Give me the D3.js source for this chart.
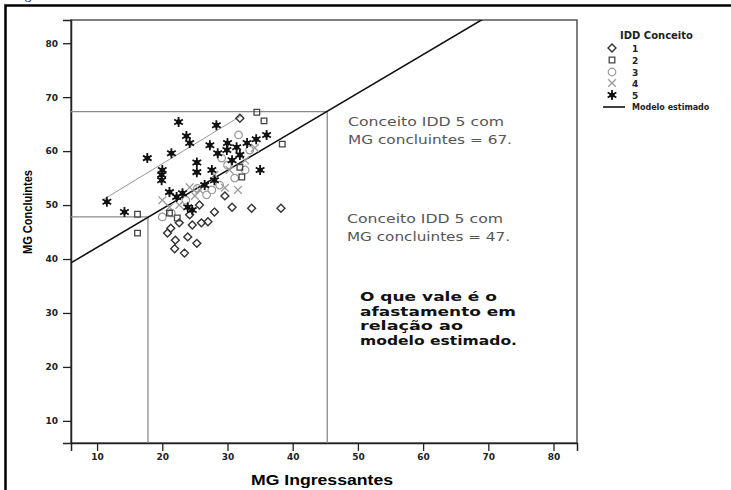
<!DOCTYPE html>
<html>
<head>
<meta charset="utf-8">
<script src="https://cdn.jsdelivr.net/npm/d3@7"></script>
<style>
  body { margin: 0; background: #fff; }
  svg { display: block; }
  .tick text { font-family: "DejaVu Sans", Verdana, sans-serif; font-weight: bold; font-size: 9px; fill: #222; }
</style>
</head>
<body>
<div id="chart"></div>
<script>
// IDD Conceito groups: [MG Ingressantes, MG Concluintes]
const conceito1 = [[33.7,49.4],[30.7,49.6],[28.0,48.7],[29.6,51.7],[22.6,46.7],[24.6,46.3],[26.0,46.7],
  [27.0,46.9],[20.8,44.8],[23.9,44.1],[25.3,42.9],[21.9,41.9],[23.4,41.1],[21.3,45.7],[38.2,49.4],
  [31.9,66.1],[25.7,50.0],[24.2,48.2],[22.0,43.5]];
const conceito2 = [[34.5,67.2],[35.6,65.6],[16.2,48.3],[16.2,44.8],[31.9,57.0],[32.2,55.2],[38.4,61.3],
  [21.1,48.5],[22.3,47.6]];
const conceito3 = [[26.8,51.9],[20.0,47.8],[21.4,48.5],[28.8,53.7],[31.1,55.0],[32.7,56.5],[30.0,57.4],
  [33.4,60.2],[27.6,52.8],[23.6,50.9],[25.4,53.1],[31.7,63.0],[29.1,58.7]];
const conceito4 = [[20.0,50.9],[24.2,53.3],[25.7,52.8],[28.0,55.6],[30.3,56.5],[32.7,58.3],[21.1,49.6],
  [22.6,50.0],[29.6,53.2],[34.2,60.6],[31.6,52.8],[25.0,51.7]];
const conceito5 = [[22.5,65.4],[28.3,64.8],[23.7,62.8],[24.2,61.5],[27.3,61.1],[30.0,61.5],[36.0,63.0],
  [17.7,58.7],[21.4,59.6],[25.3,57.9],[19.9,55.6],[19.9,54.6],[20.0,56.5],[25.3,56.1],[27.6,56.5],
  [28.5,59.6],[29.9,60.2],[31.4,60.7],[33.0,61.5],[35.0,56.5],[11.5,50.6],[14.2,48.7],[21.1,52.4],
  [22.2,51.5],[23.1,52.2],[23.9,49.6],[24.6,49.1],[30.7,58.3],[26.5,53.7],[28.0,54.6],[31.9,59.3],[34.4,62.2]];

const xTicks = [10, 20, 30, 40, 50, 60, 70, 80];
const yTicks = [10, 20, 30, 40, 50, 60, 70, 80];
const legendLabels = ['1', '2', '3', '4', '5'];

// modelo estimado: concluintes = a + b * ingressantes
const modelo = { a: 35.0, b: 0.715 };
const upperLine = [[10.8, 50.9], [32.3, 66.7]];
const refHigh = [45.3, 67.3];
const refLow = [17.8, 47.8];

const W = 731, H = 490;
const mLeft = 71, mRight = 577, mTop = 20, mBottom = 443;

const svg = d3.select('#chart').append('svg')
    .attr('width', W)
    .attr('height', H);

// page frame and cut caption
svg.append('text')
    .attr('x', 14).attr('y', -1)
    .style('font-family', '"Liberation Serif", serif')
    .style('font-size', '13px')
    .text('Figura');
svg.append('path')
    .attr('d', `M5.5,${H} V5.5 H${W}`)
    .attr('fill', 'none')
    .attr('stroke', '#000')
    .attr('stroke-width', 2.5);

const x = d3.scaleLinear().domain([6, 83.6]).range([mLeft, mRight]);
const y = d3.scaleLinear().domain([5.9, 84.3]).range([mBottom, mTop]);

svg.append('defs').append('clipPath').attr('id', 'plot')
  .append('rect')
    .attr('x', mLeft).attr('y', mTop)
    .attr('width', mRight - mLeft).attr('height', mBottom - mTop);

svg.append('rect')
    .attr('x', mLeft).attr('y', mTop)
    .attr('width', mRight - mLeft).attr('height', mBottom - mTop)
    .attr('fill', 'none')
    .attr('stroke', '#555')
    .attr('stroke-width', 1.5);

const xAxis = svg.append('g')
    .attr('transform', `translate(0,${mBottom})`)
    .call(d3.axisBottom(x).tickValues(xTicks).tickSize(8).tickPadding(3));
const yAxis = svg.append('g')
    .attr('transform', `translate(${mLeft},0)`)
    .call(d3.axisLeft(y).tickValues(yTicks).tickSize(8).tickPadding(5));
[xAxis, yAxis].forEach(a => {
    a.select('.domain').attr('stroke', '#222').attr('stroke-width', 1.5);
    a.selectAll('.tick line').attr('stroke', '#222').attr('stroke-width', 1.3);
});

svg.append('text')
    .attr('x', (mLeft + mRight) / 2 - 2).attr('y', 485)
    .attr('text-anchor', 'middle')
    .style('font-family', '"Liberation Sans", Arial, sans-serif')
    .style('font-weight', 'bold')
    .style('font-size', '14px')
    .attr('textLength', 142).attr('lengthAdjust', 'spacingAndGlyphs')
    .text('MG Ingressantes');
svg.append('text')
    .attr('transform', 'translate(32,212) rotate(-90)')
    .attr('text-anchor', 'middle')
    .style('font-family', '"Liberation Sans", Arial, sans-serif')
    .style('font-weight', 'bold')
    .style('font-size', '13px')
    .attr('textLength', 84).attr('lengthAdjust', 'spacingAndGlyphs')
    .text('MG Concluintes');

const plot = svg.append('g').attr('clip-path', 'url(#plot)');

// reference lines
const line = d3.line().x(d => x(d[0])).y(d => y(d[1]));
[refHigh, refLow].forEach(r => {
    plot.append('path')
        .attr('d', line([[6, r[1]], [r[0], r[1]], [r[0], 5.9]]))
        .attr('fill', 'none')
        .attr('stroke', '#8a8a8a')
        .attr('stroke-width', 1.3);
});
plot.append('path')
    .attr('d', line(upperLine))
    .attr('fill', 'none')
    .attr('stroke', '#999')
    .attr('stroke-width', 1);
plot.append('path')
    .attr('d', line([[6, modelo.a + modelo.b * 6], [83.6, modelo.a + modelo.b * 83.6]]))
    .attr('fill', 'none')
    .attr('stroke', '#111')
    .attr('stroke-width', 1.6);

// point symbols
function drawSymbol(g, kind) {
    if (kind === 1) {
        g.append('path').attr('d', d3.symbol(d3.symbolDiamond2, 40)())
            .attr('fill', 'none').attr('stroke', '#333').attr('stroke-width', 1.4);
    } else if (kind === 2) {
        g.append('path').attr('d', d3.symbol(d3.symbolSquare2, 40)())
            .attr('fill', 'none').attr('stroke', '#444').attr('stroke-width', 1.3);
    } else if (kind === 3) {
        g.append('path').attr('d', d3.symbol(d3.symbolCircle, 45)())
            .attr('fill', 'none').attr('stroke', '#9a9a9a').attr('stroke-width', 1.2);
    } else if (kind === 4) {
        g.append('path').attr('d', d3.symbol(d3.symbolTimes, 40)())
            .attr('fill', 'none').attr('stroke', '#9a9a9a').attr('stroke-width', 1.3);
    } else {
        g.append('path').attr('d', d3.symbol(d3.symbolAsterisk, 70)())
            .attr('fill', 'none').attr('stroke', '#111').attr('stroke-width', 1.8);
        g.append('circle').attr('r', 2.6).attr('fill', '#111');
    }
}

const groups = [conceito3, conceito4, conceito1, conceito2, conceito5];
const kinds = [3, 4, 1, 2, 5];
groups.forEach((pts, i) => {
    plot.append('g').selectAll('g')
        .data(pts)
        .enter().append('g')
        .attr('transform', d => `translate(${x(d[0])},${y(d[1])})`)
        .each(function() { drawSymbol(d3.select(this), kinds[i]); });
});

// annotations
const annot = [
    { lines: ['Conceito IDD 5 com', 'MG concluintes = 67.'], x: 348, y: 126, w: [156, 164] },
    { lines: ['Conceito IDD 5 com', 'MG concluintes = 47.'], x: 347, y: 223, w: [156, 163] }
];
annot.forEach(a => {
    a.lines.forEach((t, i) => {
        svg.append('text')
            .attr('x', a.x).attr('y', a.y + i * 18)
            .style('font-family', '"DejaVu Sans", Verdana, sans-serif')
            .style('font-size', '12.5px')
            .style('fill', '#555')
            .attr('textLength', a.w[i]).attr('lengthAdjust', 'spacingAndGlyphs')
            .text(t);
    });
});

const note = ['O que vale é o', 'afastamento em', 'relação ao', 'modelo estimado.'];
const noteW = [137, 156, 103, 157];
note.forEach((t, i) => {
    svg.append('text')
        .attr('x', 360).attr('y', 301 + i * 14.5)
        .style('font-family', '"DejaVu Sans", Verdana, sans-serif')
        .style('font-weight', 'bold')
        .style('font-size', '12px')
        .style('fill', '#111')
        .attr('textLength', noteW[i]).attr('lengthAdjust', 'spacingAndGlyphs')
        .text(t);
});

// legend
const legend = svg.append('g');
legend.append('text')
    .attr('x', 620).attr('y', 39)
    .style('font-family', '"DejaVu Sans", Verdana, sans-serif')
    .style('font-weight', 'bold')
    .style('font-size', '10px')
    .style('fill', '#222')
    .text('IDD Conceito');
const rowY = [48, 60, 72, 83, 95];
legendLabels.forEach((lab, i) => {
    const g = legend.append('g').attr('transform', `translate(612,${rowY[i]})`);
    drawSymbol(g, i + 1);
    legend.append('text')
        .attr('x', 632).attr('y', rowY[i] + 3.5)
        .style('font-family', '"DejaVu Sans", Verdana, sans-serif')
        .style('font-weight', 'bold')
        .style('font-size', '9px')
        .style('fill', '#222')
        .text(lab);
});
legend.append('line')
    .attr('x1', 603).attr('x2', 625)
    .attr('y1', 107).attr('y2', 107)
    .attr('stroke', '#111').attr('stroke-width', 1.6);
legend.append('text')
    .attr('x', 632).attr('y', 110)
    .style('font-family', '"DejaVu Sans", Verdana, sans-serif')
    .style('font-weight', 'bold')
    .style('font-size', '8px')
    .style('fill', '#222')
    .text('Modelo estimado');
</script>
</body>
</html>
